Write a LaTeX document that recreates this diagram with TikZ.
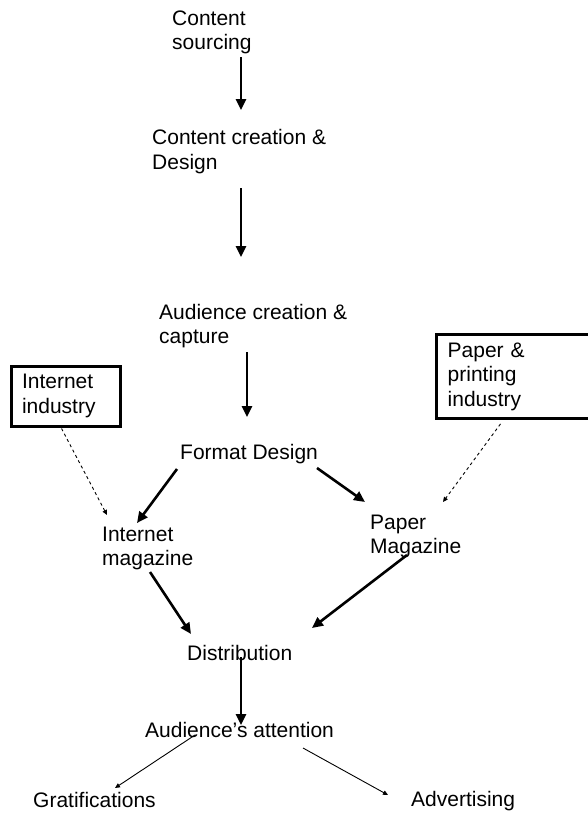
\documentclass[tikz,border=0pt]{standalone}
\usepackage{fontspec}
\setmainfont{Liberation Sans}
\usetikzlibrary{arrows.meta,calc}
\begin{document}
\begin{tikzpicture}[x=1pt,y=-1pt,
  lbl/.style={anchor=west,inner sep=0pt,align=left,font=\fontsize{21}{24.5}\selectfont},
  industry/.style={anchor=north west,inner xsep=11pt,inner ysep=0pt,
    align=left,font=\fontsize{21}{24.5}\selectfont},
  frame/.style={line width=3pt,line join=miter},
  bigarrow/.style={line width=2.6pt,-{Triangle[length=11pt,width=10pt]}},
  thinarrow/.style={line width=0.9pt,-{Triangle[length=5pt,width=4.5pt]}},
  dasharrow/.style={line width=0.9pt,dash pattern=on 3pt off 3pt,-{Triangle[length=5pt,width=4.5pt]}}]
\useasboundingbox (0,0) rectangle (588,815);
\clip (0,0) rectangle (588,815);

% value chain stages
\node[lbl] (src)    at (172,32.5)  {Content\\sourcing};
\node[lbl] (create) at (152,151.5) {Content creation \&\\Design};
\node[lbl] (aud)    at (159,326)   {Audience creation \&\\capture};
\node[lbl] (fmt)    at (180,454)   {Format Design};
\node[lbl] (imag)   at (102,548.5) {Internet\\magazine};
\node[lbl] (pmag)   at (370,536.5) {Paper\\Magazine};
\node[lbl] (dist)   at (187,653)   {Distribution};
\node[lbl] (att)    at (145,730)   {Audience’s attention};
\node[lbl] (grat)   at (33,800)    {Gratifications};
\node[lbl] (adv)    at (411,801.5) {Advertising};

% supporting industries
\node[industry,draw,frame,minimum width=109pt,minimum height=60pt,text width=87pt] (ibox)
  at (9.5,364.5) {Internet\\industry};
\node[industry,minimum width=175pt,minimum height=84pt,text width=153pt] (pbox)
  at (436.5,334.5) {Paper \&\\printing\\industry};
% the paper box is open to the right, past the edge of the page
\draw[frame] (pbox.north east) -- (pbox.north west) -- (pbox.south west) -- (pbox.south east);

% main flow
\draw[bigarrow] ($(src.west)+(69,24.5)$)     -- ($(create.west)+(89,-41.5)$);
\draw[bigarrow] ($(create.west)+(89,36.5)$)  -- ($(aud.west)+(82,-69)$);
\draw[bigarrow] ($(aud.west)+(88,26)$)       -- ($(fmt.west)+(67,-37)$);
\draw[bigarrow] ($(fmt.west)+(-3,15)$)       -- ($(imag.west)+(35,-25.5)$);
\draw[bigarrow] ($(fmt.west)+(137,14)$)      -- ($(pmag.west)+(-5,-34.5)$);
\draw[bigarrow] ($(imag.west)+(48,23.5)$)    -- ($(dist.west)+(4,-19)$);
\draw[bigarrow] ($(pmag.west)+(37,18.5)$)    -- ($(dist.west)+(125,-25)$);
\draw[bigarrow] ($(dist.west)+(54,4)$)       -- ($(att.west)+(96,-5)$);

% outcomes
\draw[thinarrow] ($(att.west)+(50,5)$)   -- ($(grat.west)+(82,-12)$);
\draw[thinarrow] ($(att.west)+(158,18)$) -- ($(adv.west)+(-23,-6.5)$);

% industry inputs
\draw[dasharrow] ($(ibox.south west)+(52,1)$) -- ($(imag.west)+(5,-33.5)$);
\draw[dasharrow] ($(pbox.south west)+(64,5)$) -- ($(pmag.west)+(73,-34.5)$);
\end{tikzpicture}
\end{document}
